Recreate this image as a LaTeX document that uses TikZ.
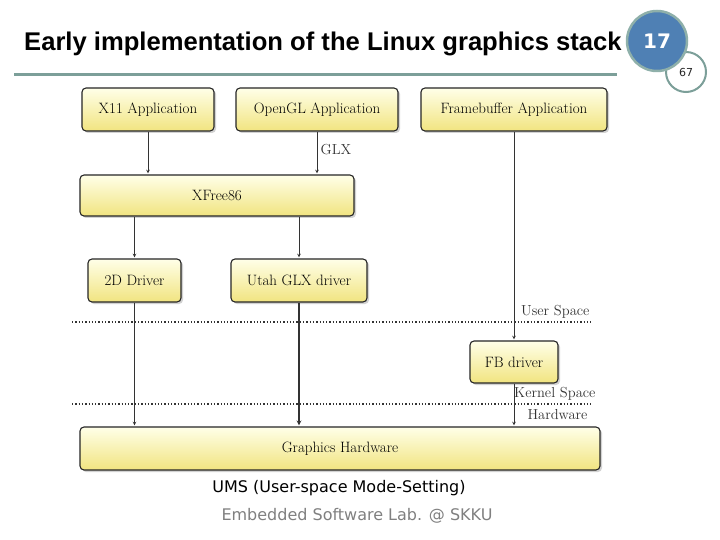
\documentclass[tikz,border=0pt]{standalone}
\usepackage{fontspec}
\usepackage{tikz}
\usetikzlibrary{shadows}
\setsansfont{DejaVu Sans}
\newfontfamily\titlefont{Liberation Sans}
\definecolor{ruleteal}{HTML}{7C9F99}
\definecolor{badgeblue}{HTML}{4F80B4}
\definecolor{badgerim}{HTML}{8FB0AA}
\definecolor{boxtop}{HTML}{FFFFE8}
\definecolor{boxbottom}{HTML}{F1E480}
\tikzset{
  layerbox/.style={draw=black!85,line width=1.1pt,rounded corners=4pt,
    top color=boxtop,bottom color=boxbottom,
    drop shadow={shadow xshift=2pt,shadow yshift=-2pt,fill=black!35},
    font=\fontsize{15}{17}\selectfont,inner sep=0pt},
  flow/.style={->,>=stealth,black!80,line width=0.7pt,shorten >=1pt},
  layerline/.style={black!80,line width=1.3pt,dotted},
  spacelabel/.style={font=\fontsize{14.5}{16}\selectfont,text=black!80}
}
\begin{document}
\begin{tikzpicture}[x=1pt,y=-1pt]
        \useasboundingbox [fill=white] (0,0) rectangle (720,540);
        % title
        \draw [ruleteal,line width=3pt] (14,75)--(617,75);
        \node [circle,draw=ruleteal,line width=2pt,fill=white,minimum size=40pt,font=\sffamily\fontsize{11}{13}\selectfont,text=black!85] (pagetotal) at(686,72) {67};
        \node [circle,draw=badgerim,line width=2.5pt,fill=badgeblue,minimum size=60pt,font=\sffamily\bfseries\fontsize{20}{24}\selectfont,text=white] (pagenum) at(657,41) {17};
        \node [anchor=west,inner sep=0pt,font=\titlefont\bfseries\fontsize{25.6}{30}\selectfont] (title) at(24,44) {Early implementation of the Linux graphics stack};

        % boxes
        \node [layerbox,minimum width=132pt,minimum height=43pt] (x11) at(148,109.5) {X11 Application};
        \node [layerbox,minimum width=162pt,minimum height=43pt] (gl) at(317,109.5) {OpenGL Application};
        \node [layerbox,minimum width=186pt,minimum height=43pt] (fbapp) at(514,109.5) {Framebuffer Application};
        \node [layerbox,minimum width=274pt,minimum height=41pt] (xf) at(217,195.5) {XFree86};
        \node [layerbox,minimum width=93pt,minimum height=43pt] (d2d) at(134.5,280.5) {2D Driver};
        \node [layerbox,minimum width=136pt,minimum height=43pt] (utah) at(299,280.5) {Utah GLX driver};
        \node [layerbox,minimum width=88pt,minimum height=42pt] (fbdrv) at(514,362) {FB driver};
        \node [layerbox,minimum width=520pt,minimum height=43pt] (hw) at(340,448.5) {Graphics Hardware};

        % layer borders
        \draw [layerline] (72,322)--(592,322);
        \draw [layerline] (72,404)--(592,404);
        \node [spacelabel,anchor=east] (user) at(593,312) {User Space};
        \node [spacelabel,anchor=east] (kernel) at(599,394) {Kernel Space};
        \node [spacelabel,anchor=east] (hwlabel) at(591,415) {Hardware};

        % arrows
        \draw [flow] (x11)--(x11 |- xf.north);
        \draw [flow] (gl)--(gl |- xf.north);
        \node [spacelabel] (glx) at(336,150) {GLX};
        \draw [flow] (fbapp)--(fbdrv);
        \draw [flow] (d2d |- xf.south)--(d2d);
        \draw [flow] (utah |- xf.south)--(utah);
        \draw [flow] (d2d)--(d2d |- hw.north);
        \draw [flow,line width=1.2pt] (utah)--(utah |- hw.north);
        \draw [flow] (fbdrv)--(fbdrv |- hw.north);

        % footer
        \node [font=\sffamily\fontsize{16}{19}\selectfont] (ums) at(339,488) {UMS (User-space Mode-Setting)};
        \node [font=\sffamily\fontsize{16}{19}\selectfont,text=black!50] (lab) at(357,516) {Embedded Software Lab. @ SKKU};
    \end{tikzpicture}
\end{document}
